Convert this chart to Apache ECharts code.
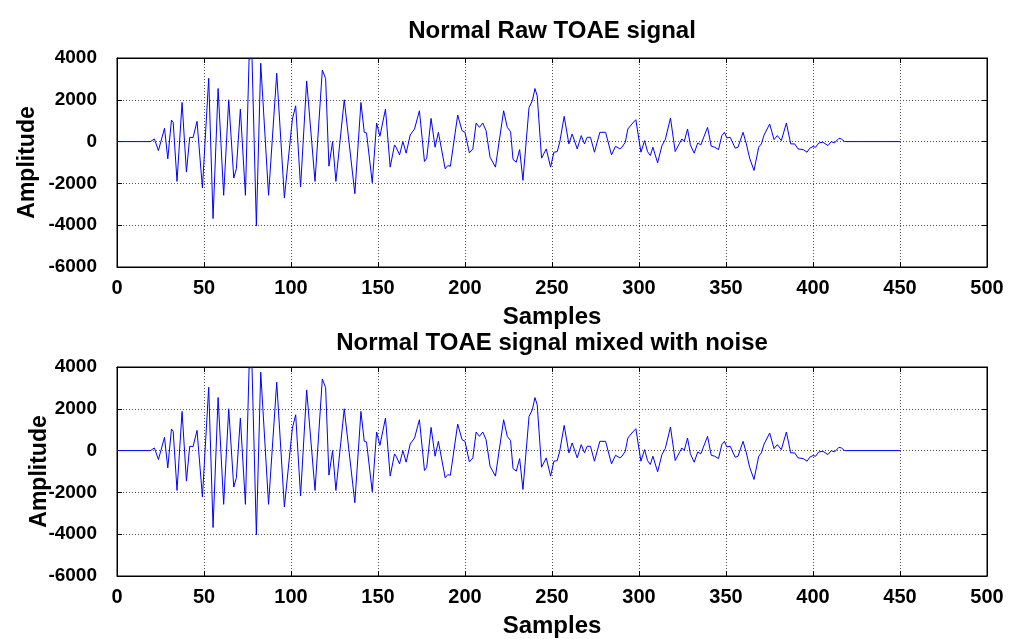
<!DOCTYPE html>
<html>
<head>
<meta charset="utf-8">
<script src="https://cdn.jsdelivr.net/npm/echarts@6/dist/echarts.min.js"></script>
<style>
html,body{margin:0;padding:0;background:#fff;}
#chart{width:1013px;height:639px;}
</style>
</head>
<body>
<div id="chart"></div>
<script>
// [sample, amplitude] vertices of the raw TOAE waveform
const rawSignal = [
  [0,0],[19.2,0],[21.5,127],[23.8,-430],[27.3,635],[29.2,-825],[31.3,1030],[32.3,920],
  [34.5,-1905],[37.4,1873],[39.9,-1460],[41.8,206],[43.7,190],[46,968],[49.1,-2222],
  [52.7,3031],[55.2,-3682],[58.1,2540],[61.3,-2571],[64.2,2000],[67.1,-1746],[68.6,-1300],
  [70.9,1555],[73.8,-2571],[75.9,3950],[77.6,3980],[80.1,-4031],[82.6,3750],[87.1,-2571],
  [91.8,3270],[96.2,-2698],[100.8,1079],[102.7,1714],[105.5,-2174],[106.1,-2250],[109,2904],
  [113.8,-1904],[118,3428],[119.9,3015],[121.8,-1174],[122.4,-1250],[123.9,0],[125.8,-1904],
  [130.6,2000],[131.4,1950],[136.7,-2492],[140.2,1873],[142.1,444],[143.4,413],[146.7,-1968],
  [149.2,889],[151.1,254],[154.3,1555],[157,-1222],[159.5,-159],[160.4,-270],[162.4,-635],
  [164.3,0],[166.2,-555],[167.1,-555],[168.5,317],[171,603],[173.8,1476],[176.7,-952],
  [178,-800],[180.5,1111],[182.8,-270],[184.7,444],[188.6,-1301],[190.1,-1150],[191.6,-1180],
  [195.8,1270],[198.3,524],[200,444],[202.5,-540],[204.5,-349],[206.4,889],[208.3,682],
  [210.2,889],[212.1,524],[214.4,-746],[217.5,-1222],[222.2,1476],[224.3,682],[226.2,476],
  [227.6,-857],[229.5,-984],[231.4,-381],[233.3,-1857],[234.3,-1857],[236.8,1635],[238.7,1952],
  [240.2,2539],[241.5,2190],[244,-794],[246.7,-349],[249.2,-1222],[251.1,-508],[253,-480],
  [254.5,0],[257,1206],[259.7,-111],[261.6,365],[264.5,-349],[266.8,286],[268.7,-111],
  [270.2,206],[272.1,206],[274.4,-508],[277.5,444],[280.8,444],[284.2,-635],[286.5,-222],
  [289,-349],[290.2,-270],[292.1,-32],[293.6,603],[295.9,841],[298.2,1047],[301.1,-508],
  [303.2,48],[304.9,-476],[306.5,-667],[308,-270],[310.7,-1016],[313.2,-190],[315.1,95],
  [318.1,1127],[320.8,-476],[323.1,-111],[324.6,127],[326,0],[327.9,603],[329.5,-150],
  [331.7,-555],[333.8,-63],[335.5,-159],[339.4,682],[341.5,-222],[343.5,-270],[345.7,-381],
  [347.6,286],[349.1,444],[350.5,175],[352.4,206],[355.3,-317],[356.9,-270],[359.8,444],
  [361.7,-111],[363.6,-794],[366.1,-1381],[368.8,-270],[370.3,-111],[371.9,317],[375.1,841],
  [377.6,95],[379.5,286],[381.8,48],[384.7,889],[387.2,-111],[389.5,-111],[391.4,-349],
  [394.3,-381],[396.6,-508],[398.1,-317],[400,-238],[401.5,-270],[403.3,-63],[405.7,-32],
  [406.7,-100],[408.6,-190],[410.5,0],[412.4,-63],[414.9,159],[416.3,127],[418.2,0],[450,0]
];
// Signal mixed with noise (visually identical at this scale)
const noisySignal = rawSignal.map(p => p.slice());

const xTicks = {min:0, max:500, interval:50};
const yTicks = {min:-6000, max:4000, interval:2000};
const titles = ['Normal Raw TOAE signal', 'Normal TOAE signal mixed with noise'];
const xName = 'Samples';
const yName = 'Amplitude';

const FONT = 'Liberation Sans, Arial, sans-serif';
const plain = v => String(v);
const yNameGaps = [78, 66];

const grids = [
  {left:117, top:58, width:870, height:209, show:true, borderColor:'#000', borderWidth:1, backgroundColor:'#fff'},
  {left:117, top:367, width:870, height:209, show:true, borderColor:'#000', borderWidth:1, backgroundColor:'#fff'}
];

const xAxes = [], yAxes = [];
[0,1].forEach(g => {
  xAxes.push({
    type:'value', gridIndex:g, min:xTicks.min, max:xTicks.max, interval:xTicks.interval,
    position:'bottom',
    name:xName, nameLocation:'middle', nameGap:38, nameMoveOverlap:false,
    nameTextStyle:{fontFamily:FONT, fontWeight:'bold', fontSize:24, color:'#000'},
    axisLine:{show:true, onZero:false, lineStyle:{color:'#000'}},
    axisTick:{show:true, inside:true, length:5, lineStyle:{color:'#000'}},
    axisLabel:{fontFamily:FONT, fontWeight:'bold', fontSize:20, color:'#000', margin:11, formatter:plain},
    splitLine:{show:true, lineStyle:{color:'#555', type:[1,2], width:1}}
  });
  xAxes.push({
    type:'value', gridIndex:g, min:xTicks.min, max:xTicks.max, interval:xTicks.interval,
    position:'top',
    axisLine:{show:true, onZero:false, lineStyle:{color:'#000'}},
    axisTick:{show:true, inside:true, length:5, lineStyle:{color:'#000'}},
    axisLabel:{show:false}, splitLine:{show:false}
  });
  yAxes.push({
    type:'value', gridIndex:g, min:yTicks.min, max:yTicks.max, interval:yTicks.interval,
    position:'left',
    name:yName, nameLocation:'middle', nameGap:yNameGaps[g], nameMoveOverlap:false,
    nameTextStyle:{fontFamily:FONT, fontWeight:'bold', fontSize:23, color:'#000'},
    axisLine:{show:true, onZero:false, lineStyle:{color:'#000'}},
    axisTick:{show:true, inside:true, length:5, lineStyle:{color:'#000'}},
    axisLabel:{fontFamily:FONT, fontWeight:'bold', fontSize:19, color:'#000', margin:20, formatter:plain},
    splitLine:{show:true, lineStyle:{color:'#555', type:[1,2], width:1}}
  });
  yAxes.push({
    type:'value', gridIndex:g, min:yTicks.min, max:yTicks.max, interval:yTicks.interval,
    position:'right',
    axisLine:{show:true, onZero:false, lineStyle:{color:'#000'}},
    axisTick:{show:true, inside:true, length:5, lineStyle:{color:'#000'}},
    axisLabel:{show:false}, splitLine:{show:false}
  });
});

const chart = echarts.init(document.getElementById('chart'), null, {renderer:'canvas'});
chart.setOption({
  animation:false,
  backgroundColor:'#fff',
  title:[
    {text:titles[0], left:547, top:14, textAlign:'center', textStyle:{fontFamily:FONT, fontWeight:'bold', fontSize:24, color:'#000'}},
    {text:titles[1], left:547, top:326, textAlign:'center', textStyle:{fontFamily:FONT, fontWeight:'bold', fontSize:24, color:'#000'}}
  ],
  grid:grids,
  xAxis:xAxes,
  yAxis:yAxes,
  series:[
    {type:'line', xAxisIndex:0, yAxisIndex:0, data:rawSignal, showSymbol:false, lineStyle:{color:'#0000ff', width:1}, z:5},
    {type:'line', xAxisIndex:2, yAxisIndex:2, data:noisySignal, showSymbol:false, lineStyle:{color:'#0000ff', width:1}, z:5}
  ]
});
</script>
</body>
</html>
